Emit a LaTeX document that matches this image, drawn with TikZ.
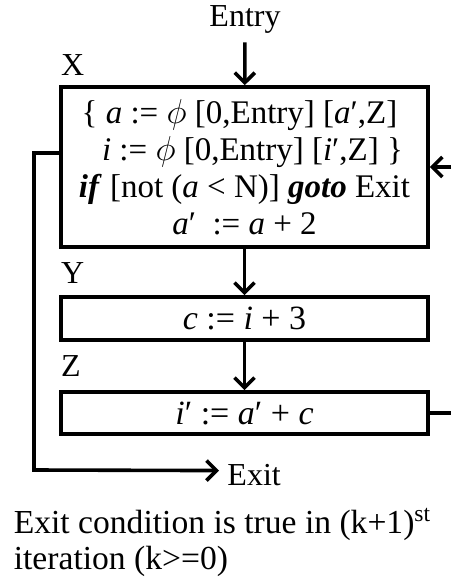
\documentclass[tikz,border=0pt]{standalone}
\usepackage{fontspec}
\setmainfont{Liberation Serif}
\usetikzlibrary{arrows.meta, positioning, calc}
\tikzset{
  every picture/.style={line width=1.8pt, font=\fontsize{16}{18.5}\selectfont},
  block/.style={draw, minimum width=183.5pt, align=center, inner sep=0pt},
  arrow/.style={-{Straight Barb[length=5pt, width=10pt]}},
  tag/.style={anchor=base west, inner sep=0pt},
}

\begin{document}
\begin{tikzpicture}[x=0.5pt, y=-0.5pt]
  \useasboundingbox (0,0) rectangle (451,577);
  % blocks of the loop
  \node[anchor=base] (entry) at (245,27) {Entry};
  \node[block, minimum height=80pt, font=\fontsize{16.5}{18.5}\selectfont] (X) at (244.5,167) {%
    \{ \textit{a} := $\phi$ [0,Entry] [\textit{a}′,Z]\hspace*{5pt}\\
    \hspace*{8pt}\textit{i} := $\phi$ [0,Entry] [\textit{i}′,Z] \}\\
    \textbf{\textit{if}} [not (\textit{a} < N)] \textbf{\textit{goto}} Exit\\
    \textit{a}′\ \ := \textit{a} + 2};
  \node[block, minimum height=21.5pt, font=\fontsize{17}{18.5}\selectfont] (Y) at (244.5,318.5) {\textit{c} := \textit{i} + 3};
  \node[block, minimum height=21pt, font=\fontsize{17}{18.5}\selectfont] (Z) at (244.5,413) {\textit{i}′ := \textit{a}′ + \textit{c}};
  \node[tag] (xlab) at ([yshift=5pt]X.north west) {X};
  \node[tag] (ylab) at ([yshift=6pt]Y.north west) {Y};
  \node[tag] (zlab) at ([yshift=7pt]Z.north west) {Z};
  \draw[arrow] (entry) -- (X);
  \draw[arrow] (X) -- (Y);
  \draw[arrow] (Y) -- (Z);
  % exit path on the left
  \node[anchor=base west] (exit) at (219,485) {Exit};
  \coordinate (corner) at (34,470);
  \draw[arrow] ([yshift=7pt]X.west) -| (corner) -- ([yshift=2pt]exit.west);
  % back edge, cut at the right border
  \coordinate (backin) at (451,167);
  \coordinate (backout) at (451,413);
  \draw[arrow] (backin) -- (X.east);
  \draw (Z.east) -- (backout);
  % note
  \node[anchor=north west, align=left, inner sep=0pt, font=\fontsize{16.8}{18}\selectfont] (note) at (12,506)
    {Exit condition is true in (k+1)\textsuperscript{st}\\iteration (k>=0)};
\end{tikzpicture}
\end{document}
